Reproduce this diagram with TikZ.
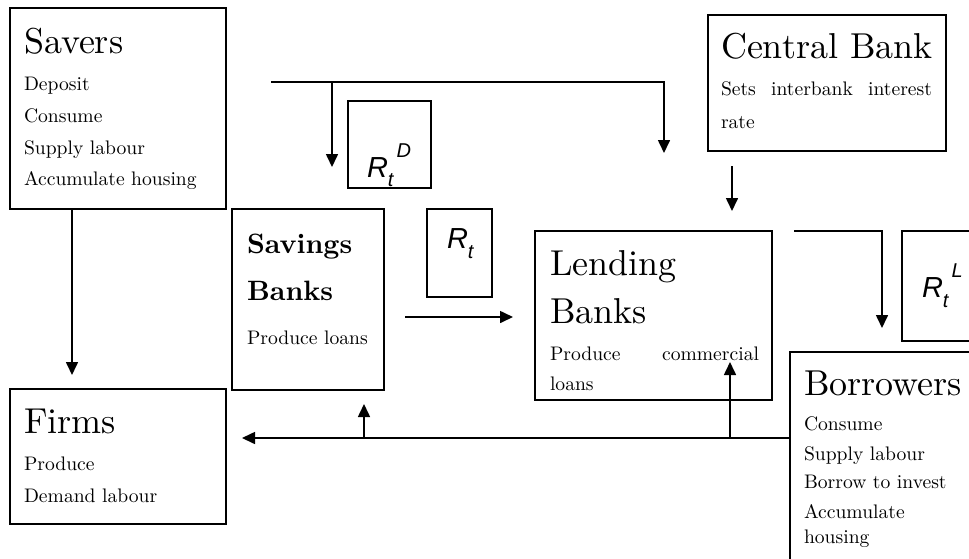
\documentclass[tikz,border=0pt]{standalone}
\usepackage{fontspec}
\setmainfont{lmroman10-regular.otf}[BoldFont=lmroman10-bold.otf,ItalicFont=lmroman10-italic.otf]
\usetikzlibrary{arrows.meta}
\newfontfamily\arialf{Liberation Sans}
\newcommand{\ttl}{\fontsize{36}{40}\selectfont}
\newcommand{\bdy}{\fontsize{19.6}{22}\selectfont}
\newcommand{\bld}{\bfseries\fontsize{28}{32}\selectfont}
\newcommand{\rlab}[4]{{\arialf\itshape\fontsize{29}{32}\selectfont R\raisebox{-#2pt}{\fontsize{20}{22}\selectfont t}\hspace{#3pt}\raisebox{#4pt}{\fontsize{20}{22}\selectfont #1}}}
\begin{document}
\begin{tikzpicture}[x=1pt,y=-1pt,
  box/.style={draw,line width=1.6pt,inner sep=0pt,outer sep=0pt,anchor=north west},
  txt/.style={anchor=base west,inner sep=0pt,outer sep=0pt},
  arr/.style={line width=1.6pt,-{Triangle[length=13pt,width=12pt]}}]
\clip (0,0) rectangle (969,558);
\fill[white] (0,0) rectangle (969,558);
% boxes
\node[box,minimum width=216pt,minimum height=201pt] (savers) at (10,8) {};
\node[box,minimum width=83pt,minimum height=87pt] (rdbox) at (348,101) {};
\node[box,minimum width=238pt,minimum height=136pt] (central) at (708,15) {};
\node[box,minimum width=152pt,minimum height=181pt] (savings) at (232,209) {};
\node[box,minimum width=65pt,minimum height=88pt] (rbox) at (427,209) {};
\node[box,minimum width=237pt,minimum height=169pt] (lending) at (535,231) {};
\node[box,minimum width=90pt,minimum height=110pt] (rlbox) at (902,231) {};
\node[box,minimum width=220pt,minimum height=230pt] (borrowers) at (790,352) {};
\node[box,minimum width=216pt,minimum height=135pt] (firms) at (10,389) {};
% Savers text
\node[txt] (sv1) at (24,53) {\ttl Savers};
\node[txt] (sv2) at (24,90) {\bdy Deposit};
\node[txt] (sv3) at (24,122) {\bdy Consume};
\node[txt] (sv4) at (24,154) {\bdy Supply labour};
\node[txt] (sv5) at (24,185) {\bdy Accumulate housing};
% Central bank text
\node[txt] (cb1) at (721,58) {\ttl Central Bank};
\node[txt] (cb2) at (721,95) {\bdy\makebox[211pt][s]{Sets interbank interest}};
\node[txt] (cb3) at (721,128) {\bdy rate};
% Savings banks text
\node[txt] (sb1) at (247,253) {\bld Savings};
\node[txt] (sb2) at (247,300) {\bld Banks};
\node[txt] (sb3) at (247,344) {\bdy Produce loans};
% Lending banks text
\node[txt] (lb1) at (550,275) {\ttl Lending};
\node[txt] (lb2) at (550,323) {\ttl Banks};
\node[txt] (lb3) at (550,360) {\bdy\makebox[209pt][s]{Produce commercial}};
\node[txt] (lb4) at (550,390) {\bdy loans};
% Borrowers text
\node[txt] (bo1) at (804,395) {\ttl Borrowers};
\node[txt] (bo2) at (804,430) {\bdy Consume};
\node[txt] (bo3) at (804,460) {\bdy Supply labour};
\node[txt] (bo4) at (804,488) {\bdy Borrow to invest};
\node[txt] (bo5) at (804,518) {\bdy Accumulate};
\node[txt] (bo6) at (804,543) {\bdy housing};
% Firms text
\node[txt] (fi1) at (24,433) {\ttl Firms};
\node[txt] (fi2) at (24,470) {\bdy Produce};
\node[txt] (fi3) at (24,502) {\bdy Demand labour};
% rate labels
\node[txt] (rd) at (367,177) {\rlab{D}{9}{3}{20}};
\node[txt] (rt) at (447,248) {\rlab{}{10}{0}{0}};
\node[txt] (rl) at (922,297) {\rlab{L}{10}{3}{20}};
% connector coordinates
\coordinate (t1) at (271,82);
\coordinate (t2) at (664,82);
\coordinate (t3) at (664,153);
\coordinate (tb) at (332,82);
\coordinate (tbe) at (332,167);
\coordinate (c1) at (732,166);
\coordinate (c2) at (732,211);
\coordinate (s1) at (405,317);
\coordinate (s2) at (513,317);
\coordinate (l1) at (794,231);
\coordinate (l2) at (882,231);
\coordinate (l3) at (882,328);
\coordinate (b1) at (790,438);
\coordinate (b2) at (242,438);
\coordinate (u1) at (364,438);
\coordinate (u1e) at (364,404);
\coordinate (u2) at (730,438);
\coordinate (u2e) at (730,362);
% connectors
\draw[arr] (t1) -- (t2) -- (t3);
\draw[arr] (tb) -- (tbe);
\draw[arr] (c1) -- (c2);
\draw[arr] ([xshift=62pt]savers.south west) -- ([xshift=62pt,yshift=14pt]firms.north west);
\draw[arr] (s1) -- (s2);
\draw[arr] (l1) -- (l2) -- (l3);
\draw[arr] (b1) -- (b2);
\draw[arr] (u1) -- (u1e);
\draw[arr] (u2) -- (u2e);
\end{tikzpicture}
\end{document}
